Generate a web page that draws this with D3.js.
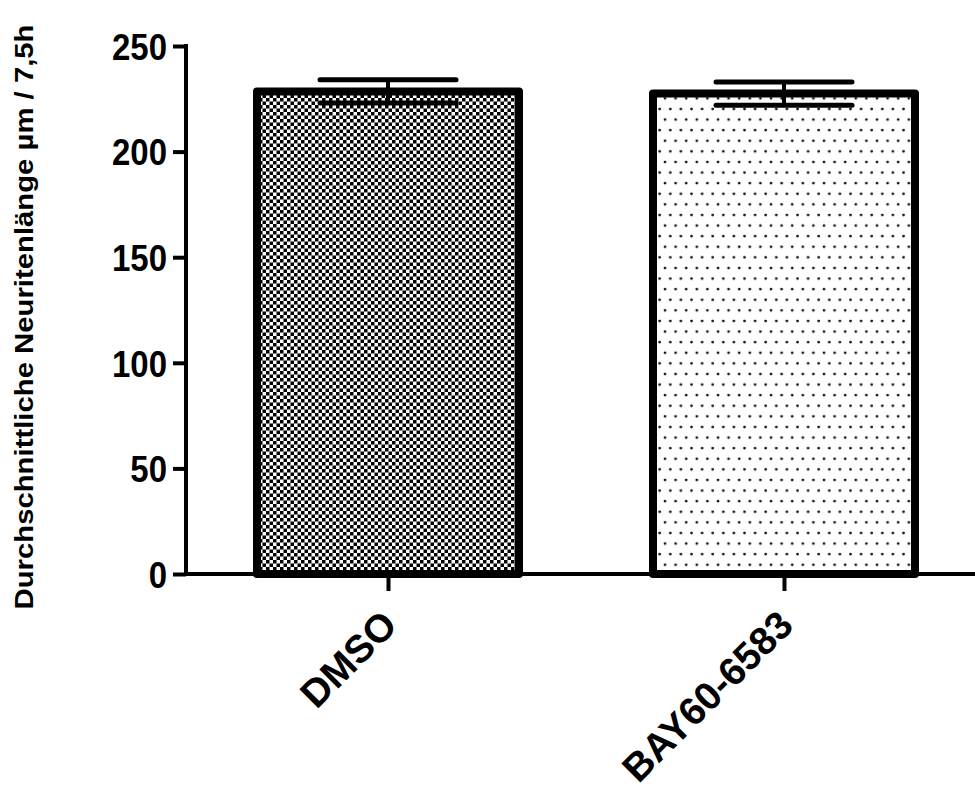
<!DOCTYPE html>
<html><head><meta charset="utf-8">
<script src="https://cdn.jsdelivr.net/npm/d3@7"></script>
<style>body{margin:0;background:#fff}svg{display:block}</style>
</head><body>
<script>
const categories = ["DMSO", "BAY60-6583"];
const means = [228.5, 227.5];
const sems = [5.5, 5.5];
const yTicks = [0, 50, 100, 150, 200, 250];
const yLabel = "Durchschnittliche Neuritenlänge µm / 7,5h";
const patterns = ["checker", "dots"];

const W = 975, H = 793;
const svg = d3.select("body").append("svg").attr("width", W).attr("height", H);
const defs = svg.append("defs");

// checkerboard pattern
const pc = defs.append("pattern").attr("id", "checker").attr("patternUnits", "userSpaceOnUse")
  .attr("width", 7).attr("height", 7);
pc.append("rect").attr("width", 7).attr("height", 7).attr("fill", "#fff");
pc.append("rect").attr("x", 0).attr("y", 0).attr("width", 3.5).attr("height", 3.5).attr("fill", "#000");
pc.append("rect").attr("x", 3.5).attr("y", 3.5).attr("width", 3.5).attr("height", 3.5).attr("fill", "#000");

// dot pattern
const pd = defs.append("pattern").attr("id", "dots").attr("patternUnits", "userSpaceOnUse")
  .attr("width", 10.6).attr("height", 21.2);
pd.append("rect").attr("width", 10.6).attr("height", 21.2).attr("fill", "#fff");
pd.append("circle").attr("cx", 2.5).attr("cy", 3).attr("r", 1.4).attr("fill", "#111");
pd.append("circle").attr("cx", 7.8).attr("cy", 13.6).attr("r", 1.4).attr("fill", "#111");

const axisX = 186, baseY = 574, topY = 46;
const x = d3.scalePoint().domain(categories).range([190, 982]).padding(0.5);
const y = d3.scaleLinear().domain([0, 250]).range([baseY, topY]);
const barW = 262;
const font = "'Liberation Sans', Arial, sans-serif";

// bars
svg.append("g").selectAll("rect").data(categories).join("rect")
  .attr("x", d => x(d) - barW / 2)
  .attr("y", (d, i) => y(means[i]))
  .attr("width", barW)
  .attr("height", (d, i) => y(0) - y(means[i]))
  .attr("fill", (d, i) => `url(#${patterns[i]})`)
  .attr("stroke", "#000").attr("stroke-width", 8).attr("stroke-linejoin", "round");

// error bars
const eb = svg.append("g").attr("stroke", "#000").attr("stroke-linecap", "round");
categories.forEach((c, i) => {
  const cx = x(c), hi = y(means[i] + sems[i]), lo = y(means[i] - sems[i]);
  eb.append("line").attr("x1", cx).attr("x2", cx).attr("y1", hi).attr("y2", lo).attr("stroke-width", 4);
  eb.append("line").attr("x1", cx - 68).attr("x2", cx + 68).attr("y1", hi).attr("y2", hi).attr("stroke-width", 5);
  eb.append("line").attr("x1", cx - 68).attr("x2", cx + 68).attr("y1", lo).attr("y2", lo).attr("stroke-width", 5);
});

// y axis
const yAxis = d3.axisLeft(y).tickValues(yTicks).tickSize(13).tickPadding(6).tickSizeOuter(0);
const gy = svg.append("g").attr("transform", `translate(${axisX},0)`).call(yAxis);
gy.select(".domain").attr("stroke-width", 4).attr("d", `M0,${topY - 2}V${baseY + 2}`);
gy.selectAll(".tick line").attr("stroke-width", 4);
gy.selectAll(".tick text").attr("font-family", font).attr("font-weight", "bold")
  .attr("font-size", 33).attr("fill", "#000").attr("dy", "0.36em")
  .attr("transform", "scale(1,1.12)")
  .attr("y", function() { return 0; });
// keep scaled text centered on its tick
gy.selectAll(".tick").each(function(d) {
  d3.select(this).select("text").attr("transform", null)
    .attr("style", "transform: scale(1,1.12); transform-origin: 0px 0px;");
});

// x axis
const xAxis = d3.axisBottom(x).tickSize(17).tickSizeOuter(0).tickFormat(() => "");
const gx = svg.append("g").attr("transform", `translate(0,${baseY})`).call(xAxis);
gx.select(".domain").attr("stroke-width", 4).attr("d", `M${axisX - 2},0H${W + 5}`);
gx.selectAll(".tick line").attr("stroke-width", 4);

// x labels rotated
svg.append("g").selectAll("text").data(categories).join("text")
  .attr("transform", d => `translate(${x(d) - 8},${baseY + 34}) rotate(-45)`)
  .attr("text-anchor", "end")
  .attr("font-family", font).attr("font-weight", "bold").attr("font-size", 39)
  .attr("dy", "0.7em")
  .text(d => d);

// y label
svg.append("text")
  .attr("transform", `translate(33,317) rotate(-90)`)
  .attr("text-anchor", "middle")
  .attr("font-family", font).attr("font-weight", "bold").attr("font-size", 25)
  .attr("textLength", 585).attr("lengthAdjust", "spacingAndGlyphs")
  .text(yLabel);
</script>
</body></html>
